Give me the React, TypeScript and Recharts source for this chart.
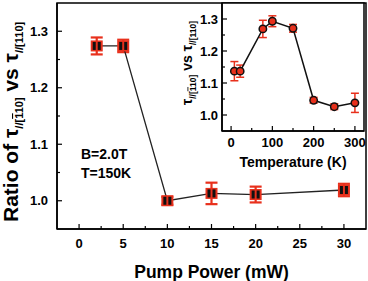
import React from 'react'
import {
  ComposedChart, Line, XAxis, YAxis, ErrorBar, ReferenceArea,
} from 'recharts'

// main panel: ratio vs pump power
const pumpPower = [2, 5, 10, 15, 20, 30]
const ratioPump = [1.274, 1.274, 1.0, 1.013, 1.011, 1.019]
const ratioPumpErr = [0.015, 0.011, 0.007, 0.019, 0.014, 0.011]
const pumpTicks = [0, 2.5, 5, 7.5, 10, 12.5, 15, 17.5, 20, 22.5, 25, 27.5, 30]
const ratioTicks = [1.0, 1.05, 1.1, 1.15, 1.2, 1.25, 1.3]

// inset: ratio vs temperature
const temperature = [8, 22, 77, 100, 150, 200, 250, 300]
const ratioTemp = [1.137, 1.137, 1.269, 1.293, 1.271, 1.046, 1.026, 1.038]
const ratioTempErr = [0.03, 0.019, 0.027, 0.017, 0.012, 0.009, 0.009, 0.03]
const tempTicks = [0, 50, 100, 150, 200, 250, 300]

const RED = '#e8301c'
const FONT = '"Liberation Sans", Arial, sans-serif'

const mainData = pumpPower.map((p, i) => ({ p, r: ratioPump[i], err: ratioPumpErr[i] }))
const insetData = temperature.map((t, i) => ({ t, r: ratioTemp[i], err: ratioTempErr[i] }))

const isMajor = (v: number, step: number) => Math.abs(v / step - Math.round(v / step)) < 1e-6

function makeXTick(step: number, offset: number) {
  return (props: any) => {
    const { x, y, payload } = props
    const major = isMajor(payload.value, step)
    return (
      <g>
        <line x1={x} x2={x} y1={y} y2={y - (major ? 5 : 3)} stroke="#000" strokeWidth={1.2} />
        {major && (
          <text x={x} y={y + offset} textAnchor="middle" fontSize={13} fontWeight="bold" fontFamily={FONT} fill="#000">
            {payload.value}
          </text>
        )}
      </g>
    )
  }
}

function makeYTick(gap: number) {
  return (props: any) => {
    const { x, y, payload } = props
    const major = isMajor(payload.value, 0.1)
    return (
      <g>
        <line x1={x} x2={x + (major ? 5 : 3)} y1={y} y2={y} stroke="#000" strokeWidth={1.2} />
        {major && (
          <text x={x - gap} y={y + 4.5} textAnchor="end" fontSize={13} fontWeight="bold" fontFamily={FONT} fill="#000">
            {payload.value.toFixed(1)}
          </text>
        )}
      </g>
    )
  }
}

function MainDot(props: any) {
  const { cx, cy, index } = props
  if (cx == null || cy == null) return <g key={index} />
  return (
    <g key={index}>
      <rect x={cx - 6} y={cy - 5.5} width={12} height={11} fill={RED} />
      <rect x={cx - 4} y={cy - 4} width={3} height={8} fill="#111" />
      <rect x={cx + 1} y={cy - 4} width={3} height={8} fill="#111" />
    </g>
  )
}

function InsetDot(props: any) {
  const { cx, cy, index } = props
  if (cx == null || cy == null) return <g key={index} />
  return <circle key={index} cx={cx} cy={cy} r={3.7} fill={RED} stroke="#111" strokeWidth={1.5} />
}

export default function App() {
  return (
    <div style={{ position: 'fixed', left: 0, top: 0, width: 368, height: 281, background: '#fff' }}>
      <div style={{ position: 'absolute', left: 0, top: 0 }}>
        <ComposedChart width={368} height={281} data={mainData} margin={{ top: 3, right: 2, left: 0, bottom: 0 }}>
          <XAxis
            dataKey="p" type="number" domain={[-2.5, 32.5]} ticks={pumpTicks} interval={0}
            height={52} tickSize={0} tickMargin={0} tickLine={false}
            axisLine={{ stroke: '#000', strokeWidth: 1.5 }} tick={makeXTick(5, 19)}
          />
          <YAxis
            type="number" domain={[0.95, 1.35]} ticks={ratioTicks} interval={0}
            width={57} tickSize={0} tickMargin={0} tickLine={false}
            axisLine={{ stroke: '#000', strokeWidth: 1.5 }} tick={makeYTick(9)}
          />
          <ReferenceArea x1={-2.5} x2={32.5} y1={0.95} y2={1.35} fill="none" stroke="#000" strokeWidth={1.5} />
          <Line
            dataKey="r" stroke="#222" strokeWidth={1.3} isAnimationActive={false}
            dot={(p: any) => <MainDot key={p.index} {...p} />}
          >
            <ErrorBar dataKey="err" width={6} stroke={RED} strokeWidth={2.2} isAnimationActive={false} />
          </Line>
        </ComposedChart>
      </div>

      <div style={{ position: 'absolute', left: 175, top: 0 }}>
        <ComposedChart width={193} height={175} data={insetData} margin={{ top: 3, right: 4, left: 0, bottom: 0 }}>
          <XAxis
            dataKey="t" type="number" domain={[-22, 322]} ticks={tempTicks} interval={0}
            height={44} tickSize={0} tickMargin={0} tickLine={false}
            axisLine={{ stroke: '#000', strokeWidth: 1.5 }} tick={makeXTick(100, 16)}
          />
          <YAxis
            type="number" domain={[0.95, 1.35]} ticks={ratioTicks} interval={0}
            width={47} tickSize={0} tickMargin={0} tickLine={false}
            axisLine={{ stroke: '#000', strokeWidth: 1.5 }} tick={makeYTick(4)}
          />
          <ReferenceArea x1={-22} x2={322} y1={0.95} y2={1.35} fill="#fff" fillOpacity={1} stroke="#000" strokeWidth={1.5} />
          <Line
            dataKey="r" stroke="#111" strokeWidth={1.5} isAnimationActive={false}
            dot={(p: any) => <InsetDot key={p.index} {...p} />}
          >
            <ErrorBar dataKey="err" width={4} stroke={RED} strokeWidth={1.5} isAnimationActive={false} />
          </Line>
        </ComposedChart>
      </div>

      <svg width={368} height={281} style={{ position: 'absolute', left: 0, top: 0, pointerEvents: 'none' }}
        fontFamily={FONT} fontWeight="bold" fill="#000">
        <text x={211.5} y={278} textAnchor="middle" fontSize={17.5}>Pump Power (mW)</text>
        <text x={81} y={159} fontSize={14}>B=2.0T</text>
        <text x={81} y={178} fontSize={14}>T=150K</text>
        <text x={293} y={167} textAnchor="middle" fontSize={14}>Temperature (K)</text>

        <text transform="translate(18,222) rotate(-90)" fontSize={21}>
          <tspan>Ratio of </tspan>
          <tspan>τ</tspan>
          <tspan fontSize={11} dy={5}>//[</tspan>
          <tspan fontSize={11} textDecoration="overline">1</tspan>
          <tspan fontSize={11}>10]</tspan>
          <tspan dy={-5}> vs </tspan>
          <tspan>τ</tspan>
          <tspan fontSize={11} dy={5}>//[110]</tspan>
        </text>

        <text transform="translate(192,63) rotate(-90)" fontSize={14} textAnchor="middle">
          <tspan>τ</tspan>
          <tspan fontSize={8.5} dy={3.5}>//[</tspan>
          <tspan fontSize={8.5} textDecoration="overline">1</tspan>
          <tspan fontSize={8.5}>10]</tspan>
          <tspan dy={-3.5}> vs </tspan>
          <tspan>τ</tspan>
          <tspan fontSize={8.5} dy={3.5}>//[110]</tspan>
        </text>
      </svg>
    </div>
  )
}
